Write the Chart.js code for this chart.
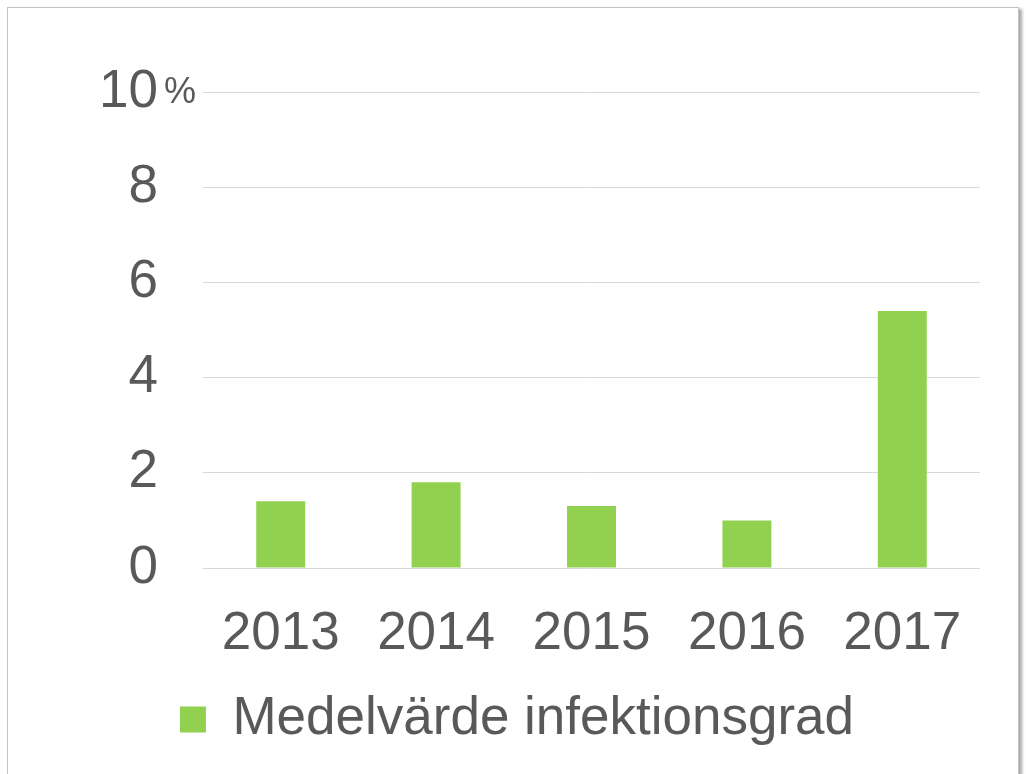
<!DOCTYPE html>
<html>
<head>
<meta charset="utf-8">
<script src="https://cdn.jsdelivr.net/npm/chart.js@4"></script>
<style>
  html, body { margin: 0; padding: 0; background: #fff; overflow: hidden; }
  #frame {
    position: absolute; left: 7px; top: 7px; width: 1010px; height: 820px;
    border: 1px solid #c4c4c4; box-shadow: 3px 2px 3px #a8a8a8; background: #fff;
  }
  #wrap { position: absolute; left: 0; top: 0; width: 1026px; height: 774px; }
</style>
</head>
<body>
<div id="frame"></div>
<div id="wrap"><canvas id="chart"></canvas></div>
<script>
var years = ["2013", "2014", "2015", "2016", "2017"];
var infektionsgrad = [1.4, 1.8, 1.3, 1.0, 5.4];
var seriesLabel = "Medelvärde infektionsgrad";

var textColor = "#595959";
var fontFamily = "'Liberation Sans', Arial, sans-serif";

// small "%" next to the top tick
var percentPlugin = {
    id: "percentSign",
    afterDraw: function(chart) {
        var ctx = chart.ctx;
        var y = chart.scales.y.getPixelForValue(10);
        ctx.save();
        ctx.font = "36px " + fontFamily;
        ctx.fillStyle = textColor;
        ctx.textAlign = "left";
        ctx.textBaseline = "middle";
        ctx.fillText("%", 164, y + 1);
        ctx.restore();
    }
};

var ctx = document.getElementById("chart");
var chart = new Chart(ctx, {
    type: "bar",
    data: {
        labels: years,
        datasets: [{
            label: seriesLabel,
            data: infektionsgrad,
            backgroundColor: "#92d050",
            borderWidth: 0,
            categoryPercentage: 1,
            barPercentage: 0.315
        }]
    },
    options: {
        responsive: true,
        maintainAspectRatio: false,
        animation: false,
        layout: { padding: { left: 54, right: 46, top: 92, bottom: 18 } },
        plugins: {
            tooltip: { enabled: false },
            legend: {
                position: "bottom",
                labels: {
                    boxWidth: 26,
                    boxHeight: 26,
                    padding: 10,
                    color: textColor,
                    font: { family: fontFamily, size: 53 }
                }
            }
        },
        scales: {
            x: {
                grid: { display: false },
                border: { display: false },
                ticks: {
                    color: textColor,
                    padding: 27,
                    font: { family: fontFamily, size: 53 }
                },
                afterFit: function(scale) { scale.height = 115; }
            },
            y: {
                min: 0,
                max: 10,
                grid: { color: "#d9d9d9", lineWidth: 1, drawTicks: false },
                border: { display: false },
                ticks: {
                    stepSize: 2,
                    color: textColor,
                    padding: 45,
                    font: { family: fontFamily, size: 53 }
                },
                afterFit: function(scale) { scale.width = 149; }
            }
        }
    },
    plugins: [percentPlugin]
});
</script>
</body>
</html>
